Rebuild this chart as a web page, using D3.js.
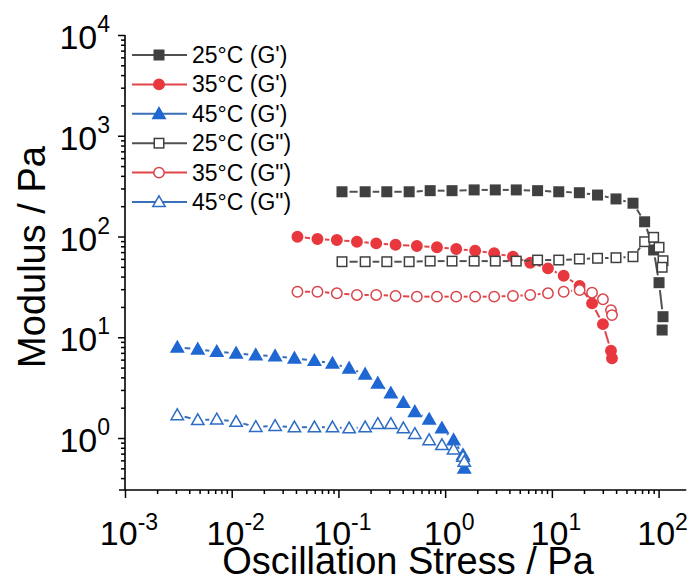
<!DOCTYPE html>
<html><head><meta charset="utf-8">
<script src="https://cdn.jsdelivr.net/npm/d3@7"></script>
<style>body{margin:0;background:#fff}svg{display:block}text{font-family:"Liberation Sans",Arial,sans-serif;fill:#000}</style>
</head><body><svg id="c" width="689" height="581"></svg>
<script>
// ---- data ----
const x25 = [0.108,0.178,0.284,0.460,0.724,1.16,1.87,2.95,4.64,7.35,11.6,18.1,26.8,39.9,57.6,74.0,89.9,101,110,108];
const g1_25 = [278,278,278,278,285,285,290,290,290,285,278,272,258,236,214,140,73.5,34.8,16.0,11.8];
const g2_25 = [56.2,56.2,56.2,56.2,57,57,57,57,57,58.4,58.4,59.8,60.8,61.6,63.0,88.8,98.2,78.1,57.5,49.5];
const x35 = [0.0413,0.0636,0.0966,0.149,0.226,0.343,0.543,0.838,1.27,1.91,2.88,4.32,6.27,9.19,12.9,18.2,23.8,30.1,35.8,36.6];
const g1_35 = [99.5,94.4,92.3,88.8,85.5,82.9,80.5,78.1,75.2,72.3,68.1,63.0,54.9,48.3,40.8,32.3,21.7,13.5,7.36,6.18];
const g2_35 = [28.3,28.3,27.3,26.3,26.3,25.7,25.3,25.3,25.3,25.3,25.3,25.7,26.3,27.3,28.3,29.4,27.7,23.8,18.6,16.6];
const x45 = [0.00309,0.00481,0.00724,0.0110,0.0168,0.0255,0.0387,0.0596,0.0879,0.126,0.178,0.234,0.310,0.406,0.520,0.708,0.933,1.20,1.47,1.51];
const g1_45 = [7.94,7.59,7.19,6.93,6.66,6.51,6.18,5.85,5.51,4.92,4.29,3.49,2.78,2.24,1.82,1.53,1.25,0.955,0.678,0.500];
const g2_45 = [1.69,1.51,1.53,1.45,1.29,1.32,1.28,1.28,1.28,1.25,1.28,1.38,1.38,1.25,1.10,0.955,0.852,0.773,0.652,0.582];
const seriesNames = ["25°C (G')","35°C (G')","45°C (G')","25°C (G\")","35°C (G\")","45°C (G\")"];
const xMajor = [1e-3,1e-2,1e-1,1,10,100];
const yMajor = [1,10,100,1000,10000];
const xExp = ["-3","-2","-1","0","1","2"];
const yExp = ["0","1","2","3","4"];

// ---- styles ----
const GRAY="#404040", GRAYL="#505050", RED="#e8383d", REDL="#e0454a", BLUE="#1f67d2", BLUEL="#3a70b8";
const series = [
 {name:seriesNames[0], xs:x25, ys:g1_25, shape:"square", fill:GRAY, stroke:GRAY, line:GRAYL},
 {name:seriesNames[1], xs:x35, ys:g1_35, shape:"circle", fill:RED, stroke:RED, line:REDL},
 {name:seriesNames[2], xs:x45, ys:g1_45, shape:"triangle", fill:BLUE, stroke:BLUE, line:BLUEL},
 {name:seriesNames[3], xs:x25, ys:g2_25, shape:"square", fill:"#fff", stroke:GRAY, line:GRAYL},
 {name:seriesNames[4], xs:x35, ys:g2_35, shape:"circle", fill:"#fff", stroke:"#d9434a", line:REDL},
 {name:seriesNames[5], xs:x45, ys:g2_45, shape:"triangle", fill:"#fff", stroke:"#2c6cc4", line:BLUEL}
];

const svg = d3.select("#c");
const L=125, R=686.3, T=35, B=490;
const x = d3.scaleLog().domain([1e-3, Math.pow(10, 2+27.7/106.65)]).range([L,R]);
const y = d3.scaleLog().domain([Math.pow(10,-0.516), 1e4]).range([B,T]);

function minors(scale){
  const [a,b]=scale.domain(); const out=[];
  for(let e=Math.floor(Math.log10(a)); e<=Math.ceil(Math.log10(b)); e++)
    for(let k=2;k<=9;k++){const v=k*Math.pow(10,e); if(v>=a&&v<=b) out.push(v);}
  return out;
}
// axes
const gx = svg.append("g").attr("transform",`translate(0,${B})`);
gx.call(d3.axisBottom(x).tickValues(minors(x)).tickSize(4).tickFormat(""));
gx.append("g").call(d3.axisBottom(x).tickValues(xMajor).tickSize(8).tickFormat(""));
const gy = svg.append("g").attr("transform",`translate(${L},0)`);
gy.call(d3.axisLeft(y).tickValues(minors(y)).tickSize(4).tickFormat(""));
gy.append("g").call(d3.axisLeft(y).tickValues(yMajor).tickSize(7).tickFormat(""));
svg.selectAll(".domain").remove();
svg.selectAll(".tick line").attr("stroke","#000").attr("stroke-width",1.5);
svg.append("line").attr("x1",119).attr("x2",R).attr("y1",B).attr("y2",B).attr("stroke","#000").attr("stroke-width",1.6);
svg.append("line").attr("x1",L).attr("x2",L).attr("y1",T).attr("y2",B).attr("stroke","#000").attr("stroke-width",1.6);

// tick labels
xMajor.forEach((v,i)=>{
  const t=svg.append("text").attr("x",x(v)+4).attr("y",545).attr("text-anchor","middle").style("font-size","34px");
  t.append("tspan").text("10");
  t.append("tspan").attr("dy",-15).style("font-size","23px").text(xExp[i]);
});
yMajor.forEach((v,i)=>{
  const t=svg.append("text").attr("x",110).attr("y",y(v)+14).attr("text-anchor","end").style("font-size","34px");
  t.append("tspan").text("10");
  t.append("tspan").attr("dy",-17).style("font-size","23px").text(yExp[i]);
});
// axis titles
svg.append("text").attr("x",408).attr("y",574).attr("text-anchor","middle").style("font-size","38px").text("Oscillation Stress / Pa");
svg.append("text").attr("transform","translate(45,257) rotate(-90)").attr("text-anchor","middle").style("font-size","38px").text("Modulus / Pa");

// markers
function drawMarker(g, shape, cx, cy, fill, stroke){
  if(shape==="square") g.append("rect").attr("x",cx-4.75).attr("y",cy-4.75).attr("width",9.5).attr("height",9.5).attr("fill",fill).attr("stroke",stroke).attr("stroke-width",1.5);
  else if(shape==="circle") g.append("circle").attr("cx",cx).attr("cy",cy).attr("r",5.2).attr("fill",fill).attr("stroke",stroke).attr("stroke-width",1.5);
  else g.append("path").attr("d",`M${cx},${cy-6.2}L${cx+6.2},${cy+4.6}L${cx-6.2},${cy+4.6}Z`).attr("fill",fill).attr("stroke",stroke).attr("stroke-width",1.5).attr("stroke-linejoin","miter");
}
const gap=7.5;
const plot = svg.append("g");
series.forEach(s=>{
  const pts = s.xs.map((xv,i)=>[x(xv), y(s.ys[i])]);
  const g = plot.append("g");
  for(let i=0;i<pts.length-1;i++){
    const [x1,y1]=pts[i],[x2,y2]=pts[i+1];
    const dx=x2-x1, dy=y2-y1, len=Math.hypot(dx,dy);
    if(len>2*gap+1){
      const ux=dx/len, uy=dy/len;
      g.append("line").attr("x1",x1+ux*gap).attr("y1",y1+uy*gap).attr("x2",x2-ux*gap).attr("y2",y2-uy*gap)
       .attr("stroke",s.line).attr("stroke-width",2);
    }
  }
  pts.forEach(p=>drawMarker(g, s.shape, p[0], p[1], s.fill, s.stroke));
});

// legend
series.forEach((s,i)=>{
  const cy = 55 + i*29.4;
  const g = svg.append("g");
  g.append("line").attr("x1",132).attr("x2",187).attr("y1",cy).attr("y2",cy).attr("stroke",s.line).attr("stroke-width",2);
  drawMarker(g, s.shape, 159, cy, s.fill, s.stroke);
  g.append("text").attr("x",192).attr("y",cy+8).style("font-size","23px").text(s.name);
});
</script></body></html>
